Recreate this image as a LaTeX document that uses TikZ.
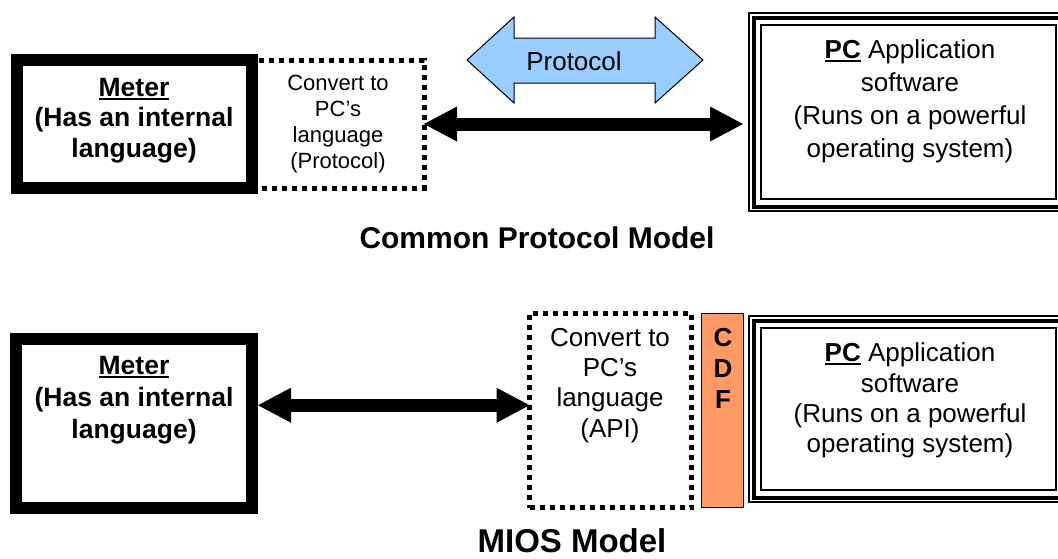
\documentclass[tikz,border=0pt]{standalone}
\usepackage{fontspec}
\setmainfont{Liberation Sans}
\usetikzlibrary{arrows.meta,calc}
\definecolor{protoblue}{HTML}{99CCFF}
\definecolor{cdforange}{HTML}{FF9966}
\newsavebox\ulbox
\newcommand\myul[1]{\sbox\ulbox{#1}\rlap{\rule[-4pt]{\wd\ulbox}{2.5pt}}\usebox\ulbox}
\tikzset{bigtip/.tip={Triangle[length=33pt 0 0,width=35pt 0 0,line width=0pt 0 0]}}
\begin{document}
\begin{tikzpicture}[x=1pt,y=-1pt,
  every node/.style={inner sep=0pt,outer sep=0pt},
  heavybox/.style={draw=black,line width=12pt,outer sep=6pt},
  dotbox/.style={draw=black,line width=5pt,dash pattern=on 5pt off 5pt},
  pcbox/.style={},
  lbl/.style={anchor=base,font=\fontsize{#1}{#1}\selectfont},
  blbl/.style={anchor=base,font=\fontsize{#1}{#1}\selectfont\bfseries},
  bigarrow/.style={line width=13pt,arrows=bigtip-bigtip},
  protoshape/.style={draw=black,line width=1pt,fill=protoblue,line join=miter},
  cdfbox/.style={draw=black,line width=1pt,fill=cdforange}]
\fill[white] (0,0) rectangle (1058,558);
\useasboundingbox (0,0) rectangle (1058,558);

% ---------- Common Protocol Model ----------
\node[dotbox,minimum width=172pt,minimum height=128pt] (conv1) at (338,124) {};
\node[heavybox,minimum width=235pt,minimum height=128pt] (meter1) at (134.5,124) {};
\node[blbl=26.5] (m1a) at (134,96) {\myul{Meter}};
\node[blbl=26.5] (m1b) at (134,126.5) {(Has an internal};
\node[blbl=26.5] (m1c) at (134,157) {language)};
\node[lbl=22] (c1a) at (338,90) {Convert to};
\node[lbl=22] (c1b) at (338,116) {PC’s};
\node[lbl=22] (c1c) at (338,142) {language};
\node[lbl=22] (c1d) at (338,168) {(Protocol)};

\draw[protoshape] (467,60) -- (514,17) -- (514,38) -- (655,38) -- (655,17) -- (703,60)
  -- (655,103) -- (655,83) -- (514,83) -- (514,103) -- cycle;
\node[lbl=26] (proto) at (574,70) {Protocol};

\node[pcbox,minimum width=321pt,minimum height=200pt] (pc1) at (908.5,112) {};
\node[lbl=26] (p1a) at (910,58) {\myul{\bfseries PC} Application};
\node[lbl=26] (p1b) at (910,91) {software};
\node[lbl=26] (p1c) at (910,124) {(Runs on a powerful};
\node[lbl=26] (p1d) at (910,157) {operating system)};

\draw[bigarrow,shorten >=5pt] (conv1.east) -- (conv1.east -| pc1.west);

\node[blbl=30] (title1) at (537,248) {Common Protocol Model};

% ---------- MIOS Model ----------
\node[heavybox,minimum width=236pt,minimum height=169pt] (meter2) at (134,423.5) {};
\node[blbl=26.5] (m2a) at (134,374) {\myul{Meter}};
\node[blbl=26.5] (m2b) at (134,406) {(Has an internal};
\node[blbl=26.5] (m2c) at (134,438) {language)};

\node[dotbox,minimum width=162pt,minimum height=194.5pt] (conv2) at (610.5,410.25) {};
\node[lbl=26] (c2a) at (610,346) {Convert to};
\node[lbl=26] (c2b) at (610,376) {PC’s};
\node[lbl=26] (c2c) at (610,406) {language};
\node[lbl=26] (c2d) at (610,437) {(API)};

\coordinate (a2) at ($(conv2.west)+(0,-5)$);
\draw[bigarrow] (meter2.east |- a2) -- (a2);

\node[cdfbox,minimum width=42pt,minimum height=194pt] (cdf) at (722,410) {};
\node[blbl=26] (cdfc) at (723,346) {C};
\node[blbl=26] (cdfd) at (723,377) {D};
\node[blbl=26] (cdff) at (723,408) {F};

\node[pcbox,minimum width=321pt,minimum height=188pt] (pc2) at (908.5,409) {};
\node[lbl=26] (p2a) at (910,361) {\myul{\bfseries PC} Application};
\node[lbl=26] (p2b) at (910,392) {software};
\node[lbl=26] (p2c) at (910,422) {(Runs on a powerful};
\node[lbl=26] (p2d) at (910,452) {operating system)};

\foreach \n in {pc1,pc2}{
  \draw[line width=1.7pt] ($(\n.north west)+(0.85,0.85)$) rectangle ($(\n.south east)+(-0.85,-0.85)$);
  \draw[line width=4pt] ($(\n.north west)+(5.5,5.5)$) rectangle ($(\n.south east)+(-5.5,-5.5)$);
  \draw[line width=2.5pt] ($(\n.north west)+(13,13)$) rectangle ($(\n.south east)+(-13,-13)$);
}

\node[blbl=33] (title2) at (572,552) {MIOS Model};
\end{tikzpicture}
\end{document}
